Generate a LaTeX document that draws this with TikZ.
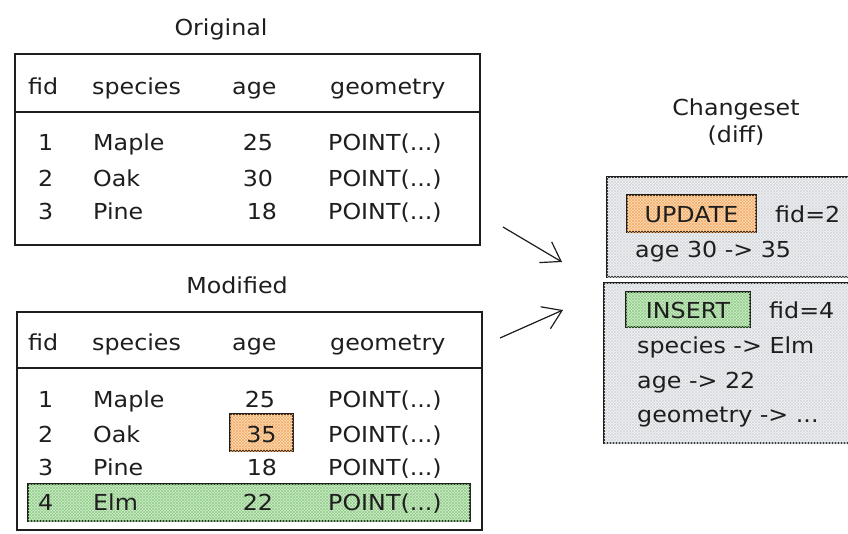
\documentclass[tikz,border=0pt]{standalone}
\usepackage{fontspec}
\setmainfont[FakeStretch=1.08]{DejaVu Sans}
\usetikzlibrary{arrows.meta,patterns}
\definecolor{ink}{HTML}{1E1E1E}
\definecolor{grayfill}{HTML}{F1F2F4}
\definecolor{grayhatch}{HTML}{D6DADE}
\definecolor{orangefill}{HTML}{FCDDBC}
\definecolor{orangehatch}{HTML}{F5AE6A}
\definecolor{greenfill}{HTML}{D2EDCD}
\definecolor{greenhatch}{HTML}{94CF8C}
\newcommand{\hand}{\fontsize{22pt}{26pt}\selectfont}
\tikzset{
  frame/.style={draw=ink, line width=1.3pt, inner sep=0pt, outer sep=0pt},
  txt/.style={font=\hand, text=ink, anchor=base west, inner sep=0pt},
  ctxt/.style={font=\hand, text=ink, anchor=base, inner sep=0pt},
  sep/.style={draw=ink, line width=1.3pt},
  grayhatched/.style={fill=grayfill,
    postaction={pattern=north east lines, pattern color=grayhatch},
    postaction={pattern=north west lines, pattern color=grayhatch}},
  orangehatched/.style={fill=orangefill,
    postaction={pattern=north east lines, pattern color=orangehatch},
    postaction={pattern=north west lines, pattern color=orangehatch}},
  greenhatched/.style={fill=greenfill,
    postaction={pattern=north east lines, pattern color=greenhatch},
    postaction={pattern=north west lines, pattern color=greenhatch}},
  arr/.style={draw=ink, line width=1.2pt, -{Straight Barb[length=18pt,width=24pt,line width=1.2pt]}}
}
\begin{document}
\begin{tikzpicture}[x=1pt,y=-1pt]
\clip (0,0) rectangle (848,533);
\fill[white] (0,0) rectangle (848,533);

% ---------- Original table ----------
\node[ctxt] (tOrig) at (221,35) {Original};
\node[frame, minimum width=465pt, minimum height=191pt] (orig) at (247.5,149.5) {};
\draw[sep] (orig.west |- 0,112) -- (orig.east |- 0,112);
\node[txt] (oh1) at (28,94) {fid};
\node[txt] (oh2) at (92,94) {species};
\node[txt] (oh3) at (232,94) {age};
\node[txt] (oh4) at (330,94) {geometry};
\node[txt] (o11) at (38,150) {1};
\node[txt] (o12) at (93,150) {Maple};
\node[ctxt] (o13) at (258,150) {25};
\node[txt] (o14) at (328,150) {POINT(...)};
\node[txt] (o21) at (38,186) {2};
\node[txt] (o22) at (93,186) {Oak};
\node[ctxt] (o23) at (258,186) {30};
\node[txt] (o24) at (328,186) {POINT(...)};
\node[txt] (o31) at (38,219) {3};
\node[txt] (o32) at (93,219) {Pine};
\node[ctxt] (o33) at (262,219) {18};
\node[txt] (o34) at (328,219) {POINT(...)};

% ---------- Modified table ----------
\node[ctxt] (tMod) at (237,293) {Modified};
\node[frame, minimum width=465pt, minimum height=218pt] (mod) at (249.5,421) {};
\draw[sep] (mod.west |- 0,368) -- (mod.east |- 0,368);
\node[frame, orangehatched, minimum width=63pt, minimum height=37pt] (chg) at (261.5,432.5) {};
\node[frame, greenhatched, minimum width=442pt, minimum height=37pt] (newrow) at (249,502.5) {};
\node[txt] (mh1) at (28,350) {fid};
\node[txt] (mh2) at (92,350) {species};
\node[txt] (mh3) at (232,350) {age};
\node[txt] (mh4) at (330,350) {geometry};
\node[txt] (m11) at (38,407) {1};
\node[txt] (m12) at (93,407) {Maple};
\node[ctxt] (m13) at (260,407) {25};
\node[txt] (m14) at (328,407) {POINT(...)};
\node[txt] (m21) at (38,442) {2};
\node[txt] (m22) at (93,442) {Oak};
\node[ctxt] (m23) at (261.5,442) {35};
\node[txt] (m24) at (328,442) {POINT(...)};
\node[txt] (m31) at (38,475) {3};
\node[txt] (m32) at (93,475) {Pine};
\node[ctxt] (m33) at (262,475) {18};
\node[txt] (m34) at (328,475) {POINT(...)};
\node[txt] (m41) at (38,510) {4};
\node[txt] (m42) at (93,510) {Elm};
\node[ctxt] (m43) at (258,510) {22};
\node[txt] (m44) at (328,510) {POINT(...)};

% ---------- Arrows ----------
\coordinate (a1s) at (503,227);
\coordinate (a1e) at (562,262);
\coordinate (a2s) at (500,338);
\coordinate (a2e) at (563,310);
\draw[arr] (a1s) -- (a1e);
\draw[arr] (a2s) -- (a2e);

% ---------- Changeset ----------
\node[ctxt] (tCs1) at (736,115) {Changeset};
\node[ctxt] (tCs2) at (736,142) {(diff)};
\node[frame, grayhatched, minimum width=253pt, minimum height=100pt] (upd) at (733.5,227) {};
\node[frame, orangehatched, minimum width=129pt, minimum height=37pt] (updlbl) at (691.5,213.5) {};
\node[ctxt] (updtxt) at (updlbl.center |- 0,222) {UPDATE};
\node[txt] (updfid) at (775,222) {fid=2};
\node[txt] (updage) at (635,257) {age 30 -> 35};

\node[frame, grayhatched, minimum width=256pt, minimum height=160pt] (ins) at (732,363) {};
\node[frame, greenhatched, minimum width=124pt, minimum height=35pt] (inslbl) at (688,309.5) {};
\node[ctxt] (instxt) at (inslbl.center |- 0,318) {INSERT};
\node[txt] (insfid) at (769,318) {fid=4};
\node[txt] (inssp) at (637,353) {species -> Elm};
\node[txt] (insage) at (637,388) {age -> 22};
\node[txt] (insgeo) at (637,422) {geometry -> ...};
\end{tikzpicture}
\end{document}
